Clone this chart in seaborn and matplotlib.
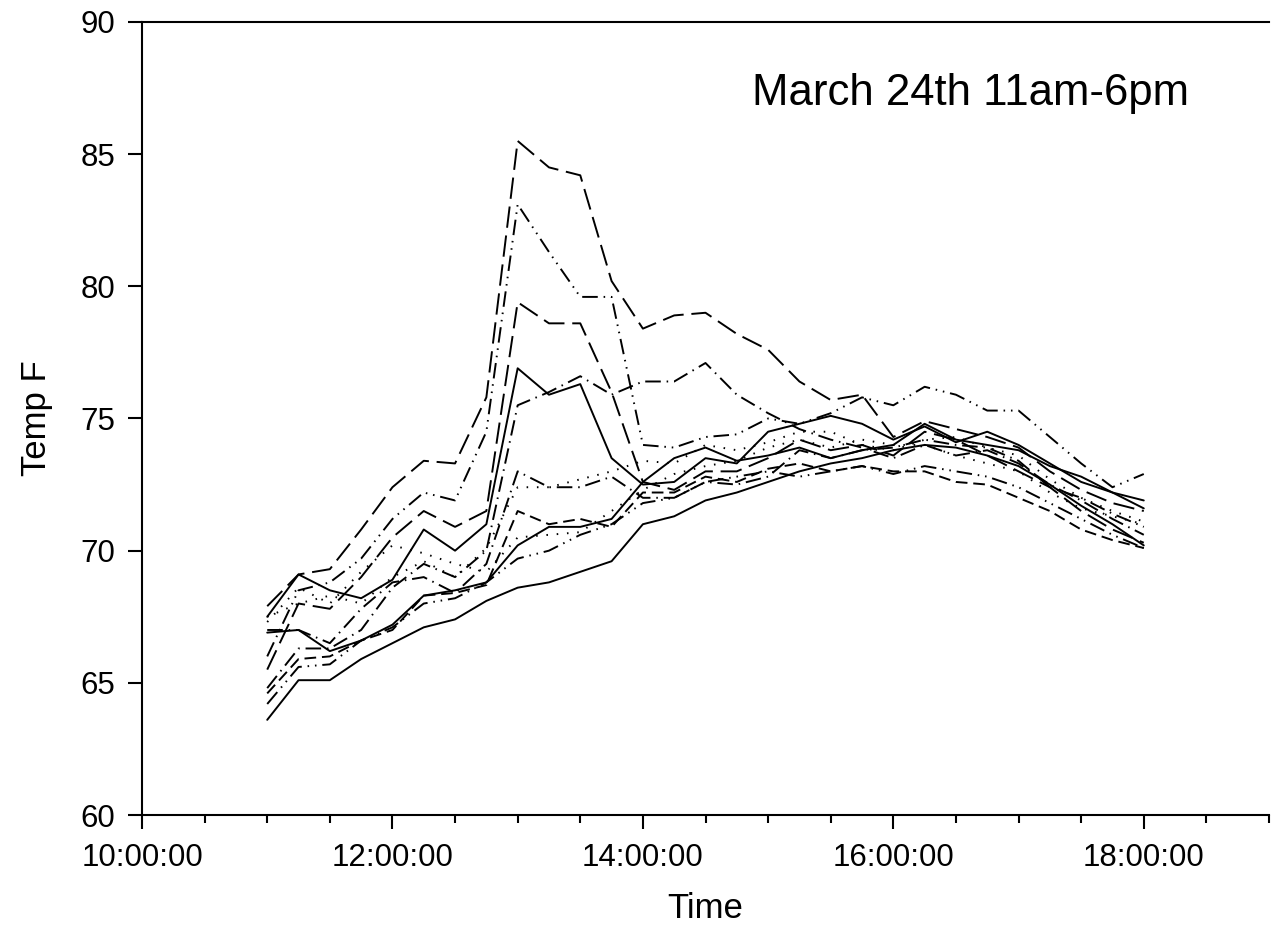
import matplotlib
matplotlib.use("Agg")
import matplotlib.pyplot as plt
import matplotlib.ticker as mticker
import seaborn as sns
import pandas as pd

times = ["11:00", "11:15", "11:30", "11:45", "12:00", "12:15", "12:30", "12:45",
         "13:00", "13:15", "13:30", "13:45", "14:00", "14:15", "14:30", "14:45",
         "15:00", "15:15", "15:30", "15:45", "16:00", "16:15", "16:30", "16:45",
         "17:00", "17:15", "17:30", "17:45", "18:00"]

s_a = [67.9, 69.1, 69.3, 70.8, 72.4, 73.4, 73.3, 75.8, 85.5, 84.5, 84.2, 80.2, 78.4, 78.9, 79.0,
       78.2, 77.6, 76.4, 75.7, 75.9, 74.3, 74.9, 74.6, 74.3, 73.9, 73.0, 72.3, 71.8, 71.5]
s_b = [66.0, 68.5, 68.8, 69.7, 71.2, 72.2, 71.9, 74.5, 83.1, 81.3, 79.6, 79.6, 74.0, 73.9, 74.3,
       74.4, 75.0, 74.8, 75.2, 75.8, 75.5, 76.2, 75.9, 75.3, 75.3, 74.3, 73.3, 72.4, 72.9]
s_c = [65.5, 68.0, 67.8, 69.0, 70.5, 71.5, 70.9, 71.5, 79.4, 78.6, 78.6, 76.0, 72.6, 72.3, 73.0,
       73.0, 73.5, 74.2, 73.8, 74.0, 73.6, 74.5, 74.2, 73.6, 73.0, 72.4, 71.5, 70.8, 70.3]
s_d = [67.5, 69.1, 68.5, 68.2, 68.9, 70.8, 70.0, 71.0, 76.9, 75.9, 76.3, 73.5, 72.5, 72.6, 73.5,
       73.3, 74.5, 74.8, 75.1, 74.8, 74.2, 74.7, 74.1, 74.5, 74.0, 73.3, 72.6, 72.2, 71.9]
s_e = [64.8, 66.3, 66.3, 67.0, 68.6, 69.5, 69.0, 70.0, 75.5, 76.0, 76.6, 75.9, 76.4, 76.4, 77.1,
       75.9, 75.2, 74.6, 74.2, 73.9, 73.5, 74.0, 73.6, 73.8, 73.3, 72.5, 71.9, 71.2, 70.6]
s_f = [67.0, 67.0, 66.5, 67.8, 68.8, 69.0, 68.4, 69.5, 73.0, 72.4, 72.4, 72.8, 72.0, 72.0, 72.6,
       72.5, 72.8, 73.8, 73.5, 73.8, 73.9, 74.2, 74.0, 73.9, 73.4, 72.4, 72.0, 71.4, 70.9]
s_g = [67.5, 68.0, 68.3, 68.0, 69.0, 69.6, 69.0, 70.1, 72.4, 72.4, 72.7, 73.0, 73.4, 73.3, 74.0,
       73.8, 74.1, 74.5, 74.5, 74.0, 73.8, 74.2, 74.3, 73.9, 73.6, 72.7, 72.0, 71.5, 71.1]
s_h = [63.6, 65.1, 65.1, 65.9, 66.5, 67.1, 67.4, 68.1, 68.6, 68.8, 69.2, 69.6, 71.0, 71.3, 71.9,
       72.2, 72.6, 73.0, 73.3, 73.5, 73.8, 74.0, 73.9, 73.6, 73.2, 72.5, 71.7, 71.0, 70.2]
s_i = [64.2, 65.6, 65.7, 66.6, 67.1, 68.0, 68.2, 68.8, 69.7, 70.0, 70.6, 71.0, 71.8, 72.0, 72.6,
       72.8, 73.0, 72.8, 73.0, 73.2, 72.9, 73.2, 73.0, 72.8, 72.4, 71.8, 71.2, 70.6, 70.1]
s_j = [64.6, 65.9, 66.0, 66.6, 67.0, 68.3, 68.4, 68.7, 71.5, 71.0, 71.2, 70.9, 72.2, 72.2, 72.8,
       72.6, 73.1, 73.3, 73.0, 73.2, 73.0, 73.0, 72.6, 72.5, 72.0, 71.5, 70.8, 70.4, 70.1]
s_k = [66.9, 67.0, 66.2, 66.6, 67.2, 68.3, 68.5, 68.8, 70.2, 70.9, 70.9, 71.2, 72.6, 73.5, 73.9,
       73.4, 73.6, 73.9, 73.5, 73.8, 74.0, 74.8, 74.2, 74.0, 73.8, 73.2, 72.8, 72.2, 71.6]
s_l = [67.3, 68.6, 68.0, 69.2, 70.2, 69.9, 69.5, 69.2, 70.5, 70.6, 70.7, 71.5, 72.3, 72.9, 73.2,
       73.4, 73.9, 74.2, 73.9, 74.2, 74.0, 74.0, 73.6, 73.3, 73.0, 72.2, 71.6, 71.3, 71.0]

series = [s_a, s_b, s_c, s_d, s_e, s_f, s_g, s_h, s_i, s_j, s_k, s_l]

LONG = (0, (11, 4))
DDOT = (0, (8, 3, 0.8, 3, 0.8, 3))
DDASH = (0, (8, 3, 0.8, 3))
DOT = (0, (0.8, 4.5))
SOLID = "-"
SHORT = (0, (6, 3))
styles = [LONG, DDOT, LONG, SOLID, DDASH, DDASH, DOT, SOLID, DDOT, SHORT, SOLID, DOT]

hours = [int(t.split(":")[0]) + int(t.split(":")[1]) / 60 for t in times]

sns.set_theme(style="ticks")
plt.rcParams["font.family"] = ["Liberation Sans", "DejaVu Sans"]
plt.rcParams["text.color"] = "black"
plt.rcParams["axes.labelcolor"] = "black"

fig = plt.figure(figsize=(12.73, 9.47), dpi=100)
ax = fig.add_axes([142 / 1273, 1 - 815 / 947, (1269 - 142) / 1273, (815 - 22) / 947])

for vals, ls in zip(series, styles):
    df = pd.DataFrame({"t": hours, "v": vals})
    sns.lineplot(data=df, x="t", y="v", ax=ax, color="black", linestyle=ls,
                 linewidth=1.4, dash_capstyle="butt")

ax.set_xlim(10, 19)
ax.set_ylim(60, 90)
ax.xaxis.set_major_locator(mticker.MultipleLocator(2))
ax.xaxis.set_minor_locator(mticker.MultipleLocator(0.5))
ax.xaxis.set_major_formatter(mticker.FuncFormatter(lambda v, p: f"{int(round(v)):d}:00:00"))
ax.yaxis.set_major_locator(mticker.MultipleLocator(5))

ax.spines["right"].set_visible(False)
for side in ["left", "bottom", "top"]:
    ax.spines[side].set_linewidth(1.5)
    ax.spines[side].set_color("black")

ax.tick_params(axis="both", which="major", direction="out", length=10, width=1.5,
               labelsize=22.5, colors="black", labelcolor="black", pad=9)
ax.tick_params(axis="x", which="minor", direction="out", length=6, width=1.5, colors="black")
ax.tick_params(axis="x", which="major", pad=10)
ax.tick_params(top=False, which="both")

ax.set_xlabel("Time", fontsize=25, labelpad=14, color="black")
ax.set_ylabel("Temp F", fontsize=25, labelpad=20, color="black")

ax.text(0.735, 0.91, "March 24th 11am-6pm", transform=ax.transAxes, fontsize=31.5,
        ha="center", va="center", color="black")

fig.savefig("out.png", dpi=100)
